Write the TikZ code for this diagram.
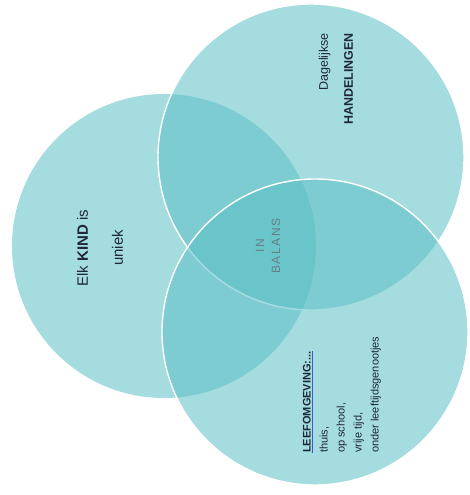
\documentclass[tikz,border=0pt]{standalone}
\usepackage{fontspec}
\setmainfont{Liberation Sans}[Ligatures=NoCommon]
\definecolor{CircleTeal}{RGB}{92, 192, 198}
\definecolor{TextDark}{RGB}{30, 40, 58}
\definecolor{TextGray}{RGB}{98, 128, 134}
\definecolor{LineBlue}{RGB}{60, 90, 205}
\usepackage{tikz}

\begin{document}
\begin{tikzpicture}[
        x=1pt, y=-1pt,
        zone/.style={fill=CircleTeal, fill opacity=0.55,
                     draw=white, line width=1.4pt},
        label/.style={rotate=90, text=TextDark, inner sep=0pt},
    ]
        \useasboundingbox (0,0) rectangle (470,495);

        \fill[white] (0,0) rectangle (470,495);

        \filldraw[zone, draw=none] (164,246) circle (152) coordinate (kind);
        \filldraw[zone] (311,157) circle (153) coordinate (acts);
        \filldraw[zone] (315,332) circle (153) coordinate (life);

        \node[label, align=center, font=\fontsize{15}{35}\selectfont]
            (kindtext) at (100,248) {Elk \textbf{KIND} is\\uniek};
        \node[label, align=right, anchor=east,
              font=\fontsize{12.5}{25}\selectfont]
            (actstext) at (336,33) {Dagelijkse\\\textbf{HANDELINGEN}};
        \node[label, align=center, text=TextGray,
              font=\fontsize{12}{16}\selectfont\addfontfeature{LetterSpace=14}]
            (balance) at (268,246) {IN\\BALANS};
        \node[label, align=left, anchor=west,
              font=\fontsize{11}{17}\selectfont]
            (lifetext) at (342,453)
            {{\color{LineBlue}\underline{\textcolor{TextDark}{\textbf{LEEFOMGEVING:...}}}}\\
             thuis,\\op school,\\vrije tijd,\\onder leeftijdsgenootjes};
    \end{tikzpicture}
\end{document}
